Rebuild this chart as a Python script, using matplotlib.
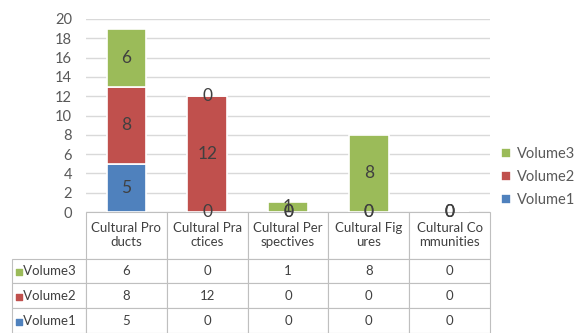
import matplotlib.pyplot as plt
import numpy as np

plt.rcParams['font.family'] = ['Lato', 'DejaVu Sans']

categories = ["Cultural Products", "Cultural Practices", "Cultural Perspectives",
              "Cultural Figures", "Cultural Communities"]
header_labels = ["Cultural Pro\nducts", "Cultural Pra\nctices", "Cultural Per\nspectives",
                 "Cultural Fig\nures", "Cultural Co\nmmunities"]
volume1 = [5, 0, 0, 0, 0]
volume2 = [8, 12, 0, 0, 0]
volume3 = [6, 0, 1, 8, 0]

series_names = ["Volume1", "Volume2", "Volume3"]
series_vals = [volume1, volume2, volume3]
colors = ["#4F81BD", "#C0504D", "#9BBB59"]

fig = plt.figure(figsize=(5.82, 3.33), dpi=100)
ax = fig.add_axes([86 / 582, 121 / 333, 404 / 582, 193 / 333])

x = np.arange(len(categories))
bottom = np.zeros(len(categories))
handles = []
for name, vals, c in zip(series_names, series_vals, colors):
    bars = ax.bar(x, vals, 0.49, bottom=bottom, color=c, edgecolor="white",
                  linewidth=1.2, label=name, zorder=3)
    ax.bar_label(bars, labels=[str(v) for v in vals], label_type="center",
                 color="#404040", fontsize=12.5, zorder=4)
    handles.append(bars)
    bottom += np.array(vals)

ax.set_xlim(-0.5, 4.5)
ax.set_ylim(0, 20)
ax.set_yticks(range(0, 21, 2))
ax.tick_params(axis="y", length=0, pad=10, labelsize=10.5, labelcolor="#595959")
ax.set_xticks([])
ax.grid(axis="y", color="#D9D9D9", linewidth=1, zorder=0)
for s in ax.spines.values():
    s.set_visible(False)

# data table under the bars (first column holds the series names)
rows = series_names[::-1]
cell_text = [["   " + r] + [str(v) for v in vals]
             for r, vals in zip(rows, series_vals[::-1])]
col_w = [74] + [80.8] * 5
tab = ax.table(cellText=cell_text, colLabels=[""] + header_labels,
               colWidths=col_w, cellLoc="center",
               bbox=[-74 / 404, -121 / 193, 478 / 404, 121 / 193])
tab.auto_set_font_size(False)
for (r, cidx), cell in tab.get_celld().items():
    cell.set_edgecolor("#BFBFBF")
    cell.set_linewidth(0.8)
    cell.get_text().set_color("#404040")
    cell.get_text().set_fontsize(9.5)
    if r == 0:
        cell.set_height(47)
    else:
        cell.set_height(25)
    if cidx == 0:
        cell.get_text().set_horizontalalignment("left")
        cell._loc = "left"
        cell.PAD = 0.02
tab[0, 0].visible_edges = ""

# colored keys in the row labels
row_y = [-(47 + 12.5) / 193, -(47 + 37.5) / 193, -(47 + 62.5) / 193]
for yy, c in zip(row_y, colors[::-1]):
    ax.scatter([-67 / 404], [yy], marker="s", s=18, color=c,
               transform=ax.transAxes, clip_on=False, zorder=5)

leg = fig.legend(handles[::-1], series_names[::-1], loc="center left",
                 bbox_to_anchor=(0.838, 0.468), frameon=False, fontsize=10.5,
                 handlelength=0.7, handleheight=0.7, handletextpad=0.4,
                 labelspacing=0.6)
for t in leg.get_texts():
    t.set_color("#595959")

fig.savefig("out.png", dpi=100)
